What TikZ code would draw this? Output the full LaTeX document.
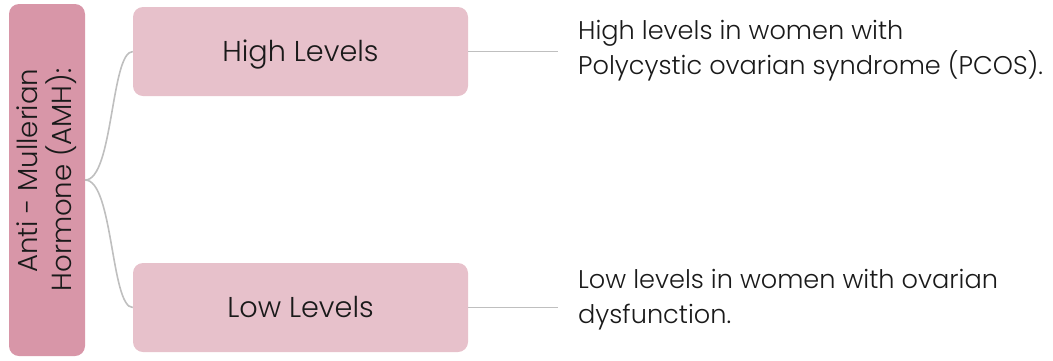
\documentclass[tikz,border=0pt]{standalone}
\usepackage{fontspec}
\setmainfont{Poppins}[UprightFont=* Light]
\definecolor{amhpink}{HTML}{D896A8}
\definecolor{lvlpink}{HTML}{E7C1CB}
\definecolor{conngray}{HTML}{BFBFBF}
\definecolor{txt}{HTML}{1A1A1A}
\begin{document}
\begin{tikzpicture}[x=1pt,y=-1pt,
  amhbox/.style={fill=amhpink, rounded corners=10pt, inner sep=0pt, align=right,
    text=txt, font=\fontsize{27.6}{34}\selectfont},
  lvlbox/.style={fill=lvlpink, rounded corners=10pt, minimum width=335pt, minimum height=89pt,
    inner sep=0pt, text=txt, text height=20pt, text depth=0pt, font=\fontsize{28.7}{34}\selectfont},
  desc/.style={anchor=base west, inner sep=0pt, align=left, text=txt,
    font=\fontsize{25.6}{34.5}\selectfont},
  conn/.style={draw=conngray, line width=1.6pt}]
\useasboundingbox (0,0) rectangle (1053,360);
\node[amhbox, rotate=90, minimum width=352pt, minimum height=76pt] (amh) at (47,180)
  {Anti - Mullerian\\Hormone (AMH):};
\node[lvlbox] (high) at (300.5,51.5) {High Levels};
\node[lvlbox] (low) at (300.5,307.5) {Low Levels};
\node[desc] (highd) at (578,74) {High levels in women with\\Polycystic ovarian syndrome (PCOS).};
\node[desc] (lowd) at (578,323.3) {Low levels in women with ovarian\\dysfunction.};
\coordinate (he) at ([xshift=90pt]high.east);
\coordinate (le) at ([xshift=90pt]low.east);
\draw[conn] (amh.south) .. controls +(28,0) and +(-22,0) .. (high.west);
\draw[conn] (amh.south) .. controls +(28,0) and +(-22,0) .. (low.west);
\draw[conn] (high.east) -- (he);
\draw[conn] (low.east) -- (le);
\end{tikzpicture}
\end{document}
